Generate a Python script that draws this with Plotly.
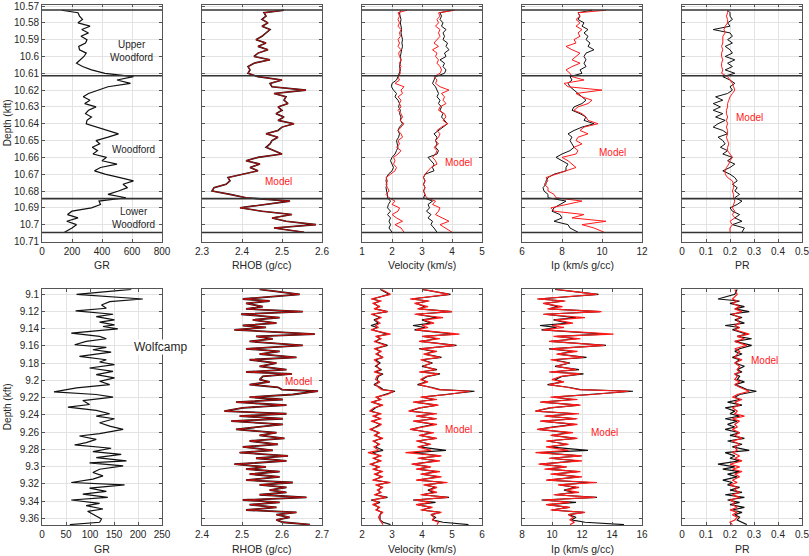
import plotly.graph_objects as go

W, H = 809, 556

# ---------------- top interval (Woodford), depth in kft ----------------
top_depth = [10.5725, 10.574, 10.576, 10.578, 10.580, 10.582, 10.584, 10.586, 10.588, 10.590,
             10.592, 10.594, 10.596, 10.598, 10.600, 10.602, 10.604, 10.606, 10.608, 10.610,
             10.612, 10.614, 10.616, 10.618, 10.620, 10.622, 10.624, 10.626, 10.628, 10.630,
             10.632, 10.634, 10.636, 10.638, 10.640, 10.642, 10.644, 10.646, 10.648, 10.650,
             10.652, 10.654, 10.656, 10.658, 10.660, 10.662, 10.664, 10.666, 10.668, 10.670,
             10.672, 10.674, 10.676, 10.678, 10.680, 10.682, 10.684, 10.686, 10.688, 10.690,
             10.692, 10.694, 10.696, 10.698, 10.700, 10.702, 10.7045]

gr_top = [130, 240, 250, 270, 240, 320, 265, 310, 260, 300,
          290, 245, 250, 295, 280, 255, 230, 270, 330, 420,
          610, 500, 590, 440, 380, 310, 275, 320, 285, 360,
          310, 290, 330, 300, 295, 370, 440, 510, 440, 360,
          385, 335, 370, 340, 430, 400, 500, 390, 350, 420,
          520, 610, 540, 570, 510, 440, 560, 380, 390, 330,
          200, 170, 240, 165, 230, 200, 150]

rhob_top = [2.505, 2.455, 2.46, 2.45, 2.465, 2.45, 2.47, 2.46, 2.45, 2.435,
            2.46, 2.44, 2.465, 2.44, 2.43, 2.47, 2.43, 2.415, 2.42, 2.415,
            2.44, 2.50, 2.47, 2.475, 2.56, 2.48, 2.51, 2.505, 2.515, 2.49,
            2.50, 2.485, 2.505, 2.49, 2.53, 2.50, 2.49, 2.46, 2.49, 2.475,
            2.47, 2.46, 2.48, 2.50, 2.44, 2.41, 2.445, 2.42, 2.44, 2.40,
            2.365, 2.37, 2.36, 2.33, 2.325, 2.37, 2.41, 2.52, 2.45, 2.395,
            2.45, 2.525, 2.475, 2.51, 2.585, 2.48, 2.555]

vs_top = [2.3, 2.25, 2.27, 2.3, 2.28, 2.3, 2.32, 2.3, 2.33, 2.35,
          2.33, 2.35, 2.32, 2.3, 2.28, 2.3, 2.27, 2.25, 2.28, 2.25,
          2.2, 2.15, 2.0, 1.98, 2.05, 2.15, 2.1, 2.2, 2.25, 2.22,
          2.28, 2.25, 2.3, 2.28, 2.35, 2.25, 2.2, 2.25, 2.22, 2.15,
          2.18, 2.2, 2.15, 2.1, 2.0, 1.95, 2.0, 2.05, 2.0, 1.88,
          1.82, 1.8, 1.83, 1.8, 1.82, 1.85, 1.85, 1.95, 1.88, 1.85,
          1.95, 1.85, 1.95, 1.9, 1.95, 1.9, 2.0]
vs_top_model = [2.5, 2.2, 2.25, 2.2, 2.25, 2.2, 2.3, 2.25, 2.28, 2.2,
                2.25, 2.2, 2.3, 2.22, 2.25, 2.3, 2.25, 2.3, 2.25, 2.28,
                2.2, 2.25, 2.1, 2.4, 2.3, 2.35, 2.2, 2.3, 2.25, 2.3,
                2.2, 2.3, 2.35, 2.28, 2.4, 2.3, 2.2, 2.3, 2.35, 2.2,
                2.25, 2.15, 2.3, 2.2, 2.05, 2.1, 2.05, 2.15, 2.1, 1.95,
                1.8, 1.85, 1.8, 1.85, 1.9, 1.8, 1.9, 2.1, 2.0, 2.25,
                2.2, 2.0, 2.15, 2.35, 2.1, 2.3, 2.4]

vp_top = [4.0, 3.6, 3.65, 3.6, 3.7, 3.65, 3.8, 3.7, 3.75, 3.7,
          3.85, 3.8, 3.9, 3.75, 3.8, 3.6, 3.75, 3.7, 3.8, 3.75,
          3.45, 3.4, 3.35, 3.45, 3.5, 3.55, 3.5, 3.6, 3.55, 3.65,
          3.6, 3.7, 3.65, 3.75, 3.85, 3.7, 3.55, 3.4, 3.5, 3.45,
          3.5, 3.45, 3.55, 3.5, 3.2, 3.3, 3.4, 3.35, 3.4, 3.1,
          3.05, 3.1, 3.05, 3.1, 3.05, 3.1, 3.05, 3.35, 3.2, 3.25,
          3.15, 3.3, 3.2, 3.35, 3.3, 3.4, 3.5]
vp_top_model = [4.1, 3.55, 3.6, 3.5, 3.55, 3.45, 3.6, 3.55, 3.6, 3.5,
                3.4, 3.55, 3.35, 3.5, 3.45, 3.55, 3.5, 3.6, 3.65, 3.6,
                3.4, 3.5, 3.45, 3.6, 3.9, 3.65, 3.75, 3.7, 3.8, 3.6,
                3.55, 3.75, 3.8, 3.7, 3.85, 3.65, 3.5, 3.6, 3.55, 3.45,
                3.55, 3.4, 3.5, 3.45, 3.35, 3.45, 3.5, 3.3, 3.2, 3.1,
                3.05, 3.1, 3.05, 3.1, 3.05, 3.1, 3.15, 3.45, 3.35, 3.6,
                3.55, 3.45, 3.7, 3.9, 3.6, 3.8, 4.0]

ip_top = [9.5, 8.8, 8.9, 8.8, 9.1, 9.0, 9.3, 9.1, 9.3, 9.2,
          9.4, 9.3, 9.6, 9.2, 9.1, 9.2, 9.1, 9.2, 8.9, 9.0,
          8.4, 8.5, 8.3, 8.4, 8.6, 8.8, 9.0, 9.2, 9.0, 8.6,
          8.5, 8.9, 9.2, 9.1, 9.6, 9.0, 8.6, 8.3, 8.5, 8.4,
          8.5, 8.6, 8.4, 8.0, 7.7, 8.0, 8.3, 8.2, 8.2, 7.6,
          7.3, 7.2, 7.2, 7.05, 7.1, 7.3, 7.3, 8.2, 7.9, 7.6,
          7.5, 7.9, 8.0, 7.6, 8.3, 8.4, 8.8]
ip_top_model = [10.2, 8.8, 8.9, 8.7, 8.9, 8.7, 9.0, 8.8, 8.9, 8.6,
                8.7, 8.2, 8.5, 8.9, 8.7, 8.5, 8.9, 8.5, 8.2, 8.4,
                8.5, 9.1, 8.1, 8.3, 10.0, 8.7, 9.0, 9.5, 9.3, 8.8,
                8.6, 9.0, 9.2, 9.3, 9.8, 9.1, 8.9, 9.3, 8.8, 8.7,
                9.0, 8.6, 8.8, 8.7, 8.0, 8.3, 8.5, 8.7, 8.2, 7.7,
                7.2, 7.3, 7.1, 7.3, 7.3, 7.6, 7.7, 9.0, 8.3, 7.45,
                7.6, 9.1, 8.5, 10.2, 9.0, 9.6, 10.1]

pr_top = [0.19, 0.2, 0.2, 0.21, 0.19, 0.2, 0.13, 0.2, 0.21, 0.19,
          0.21, 0.18, 0.2, 0.21, 0.18, 0.22, 0.19, 0.21, 0.18, 0.22,
          0.17, 0.2, 0.22, 0.2, 0.21, 0.19, 0.14, 0.17, 0.13, 0.16,
          0.13, 0.17, 0.14, 0.18, 0.15, 0.13, 0.17, 0.19, 0.15, 0.17,
          0.18, 0.16, 0.19, 0.17, 0.21, 0.19, 0.22, 0.2, 0.17, 0.2,
          0.22, 0.23, 0.21, 0.23, 0.22, 0.24, 0.22, 0.25, 0.23, 0.2,
          0.21, 0.24, 0.22, 0.25, 0.21, 0.26, 0.25]
pr_top_model = [0.19, 0.19, 0.185, 0.19, 0.19, 0.18, 0.175, 0.18, 0.17, 0.17,
                0.17, 0.165, 0.17, 0.165, 0.165, 0.17, 0.165, 0.165, 0.17, 0.165,
                0.19, 0.2, 0.21, 0.215, 0.22, 0.21, 0.2, 0.195, 0.19, 0.19,
                0.185, 0.185, 0.19, 0.185, 0.19, 0.185, 0.19, 0.19, 0.185, 0.19,
                0.195, 0.19, 0.19, 0.2, 0.21, 0.2, 0.195, 0.185, 0.18, 0.18,
                0.19, 0.21, 0.215, 0.215, 0.21, 0.215, 0.215, 0.22, 0.215, 0.21,
                0.22, 0.21, 0.22, 0.2, 0.21, 0.2, 0.2]

tops = [10.5724, 10.6115, 10.6845, 10.7047]   # formation boundaries

# ---------------- bottom interval (Wolfcamp) ----------------
gr_bot_depth = [9.0946, 9.1004, 9.1058, 9.1088, 9.1127, 9.1165, 9.1196, 9.1235, 9.1262, 9.1300,
                9.1327, 9.1358, 9.1377, 9.1404, 9.1454, 9.1492, 9.1519, 9.1550, 9.1588, 9.1619,
                9.1646, 9.1673, 9.1723, 9.1762, 9.1788, 9.1819, 9.1858, 9.1896, 9.1935, 9.1973,
                9.2012, 9.2050, 9.2088, 9.2135, 9.2165, 9.2196, 9.2235, 9.2281, 9.2312, 9.2350,
                9.2388, 9.2415, 9.2446, 9.2492, 9.2531, 9.2569, 9.2619, 9.2646, 9.2685, 9.2723,
                9.2750, 9.2788, 9.2827, 9.2858, 9.2896, 9.2935, 9.2958, 9.2992, 9.3031, 9.3069,
                9.3108, 9.3146, 9.3185, 9.3212, 9.3250, 9.3288, 9.3319, 9.3358, 9.3388, 9.3427,
                9.3454, 9.3492, 9.3519, 9.3569, 9.3608, 9.3646, 9.3673]
gr_bot = [186, 72, 210, 141, 124, 134, 70, 148, 113, 151,
          120, 151, 127, 158, 61, 120, 134, 92, 68, 134,
          106, 144, 78, 134, 120, 151, 99, 148, 113, 151,
          120, 141, 72, 25, 113, 148, 85, 99, 54, 113,
          141, 113, 151, 120, 141, 169, 120, 78, 113, 92,
          68, 144, 106, 165, 113, 176, 99, 169, 120, 106,
          127, 106, 61, 172, 99, 134, 85, 137, 61, 120,
          92, 127, 95, 113, 124, 120, 58]

bot_depth = [9.0946, 9.1004, 9.1058, 9.1081, 9.1108, 9.1146, 9.1173, 9.1204, 9.1235, 9.1273,
             9.1300, 9.1338, 9.1365, 9.1388, 9.1415, 9.1465, 9.1492, 9.1519, 9.1550, 9.1596,
             9.1635, 9.1665, 9.1696, 9.1735, 9.1762, 9.1800, 9.1838, 9.1877, 9.1904, 9.1927,
             9.1954, 9.1992, 9.2019, 9.2050, 9.2081, 9.2108, 9.2127, 9.2165, 9.2196, 9.2223,
             9.2254, 9.2288, 9.2319, 9.2358, 9.2388, 9.2415, 9.2446, 9.2473, 9.2512, 9.2542,
             9.2569, 9.2608, 9.2638, 9.2673, 9.2704, 9.2742, 9.2773, 9.2812, 9.2838, 9.2877,
             9.2904, 9.2935, 9.2973, 9.3004, 9.3031, 9.3058, 9.3088, 9.3119, 9.3158, 9.3185,
             9.3212, 9.3242, 9.3273, 9.3300, 9.3327, 9.3358, 9.3388, 9.3415, 9.3442, 9.3473,
             9.3504, 9.3531, 9.3558, 9.3588, 9.3619, 9.3646, 9.3673]

rhob_bot = [2.544, 2.644, 2.502, 2.569, 2.510, 2.552, 2.510, 2.652, 2.498, 2.594,
            2.527, 2.586, 2.502, 2.560, 2.481, 2.682, 2.535, 2.577, 2.519, 2.652,
            2.510, 2.594, 2.544, 2.636, 2.519, 2.586, 2.544, 2.611, 2.510, 2.625,
            2.552, 2.544, 2.569, 2.519, 2.590, 2.600, 2.690, 2.627, 2.519, 2.602,
            2.485, 2.611, 2.502, 2.456, 2.611, 2.494, 2.602, 2.473, 2.602, 2.535,
            2.485, 2.586, 2.544, 2.606, 2.519, 2.590, 2.502, 2.577, 2.494, 2.615,
            2.535, 2.611, 2.481, 2.560, 2.510, 2.594, 2.519, 2.594, 2.510, 2.627,
            2.544, 2.611, 2.569, 2.611, 2.544, 2.661, 2.502, 2.594, 2.519, 2.586,
            2.510, 2.636, 2.586, 2.619, 2.586, 2.602, 2.670]

vp_bot = [4.0, 4.95, 3.65, 4.2, 3.8, 4.1, 3.9, 5.0, 3.8, 4.5,
          4.0, 4.3, 3.7, 4.1, 3.75, 5.1, 4.05, 4.5, 3.95, 5.15,
          3.9, 4.4, 4.1, 4.65, 4.0, 4.35, 4.0, 4.5, 3.95, 4.6,
          4.2, 4.0, 4.15, 3.85, 4.3, 4.6, 5.75, 4.8, 4.0, 4.4,
          3.75, 4.5, 3.95, 3.6, 4.4, 3.85, 4.45, 3.75, 4.4, 3.95,
          3.65, 4.3, 3.95, 4.45, 3.85, 4.25, 3.9, 4.8, 3.7, 4.6,
          3.9, 4.5, 3.7, 4.25, 3.85, 4.5, 4.0, 4.55, 3.85, 4.75,
          4.1, 4.45, 4.2, 4.4, 4.0, 4.9, 3.7, 4.45, 3.85, 4.3,
          4.0, 4.6, 4.3, 4.45, 4.35, 4.7, 5.55]
vp_bot_model = [4.05, 4.9, 3.6, 4.25, 3.75, 4.2, 3.85, 5.0, 3.75, 4.7,
                4.05, 4.4, 4.0, 4.2, 3.8, 5.25, 4.0, 4.6, 3.9, 5.1,
                3.95, 4.5, 4.05, 4.6, 3.95, 4.3, 4.05, 4.45, 3.9, 4.55,
                4.15, 3.95, 4.2, 3.9, 4.25, 4.55, 5.6, 4.85, 3.95, 4.5,
                3.7, 4.55, 3.9, 3.55, 4.5, 3.8, 4.5, 3.7, 4.5, 4.0,
                3.6, 4.4, 3.9, 4.5, 3.8, 4.3, 3.85, 4.3, 3.45, 4.65,
                3.85, 4.6, 3.65, 4.3, 3.8, 4.6, 3.95, 4.65, 3.8, 4.85,
                4.05, 4.5, 4.25, 4.5, 3.95, 4.85, 3.75, 4.3, 3.8, 4.35,
                3.95, 4.65, 4.3, 4.4, 4.35, 4.55, 4.5]

vs_bot = [2.6, 2.9, 2.35, 2.6, 2.4, 2.55, 2.45, 2.85, 2.35, 2.6,
          2.4, 2.55, 2.3, 2.5, 2.35, 2.85, 2.5, 2.6, 2.45, 2.85,
          2.45, 2.6, 2.5, 2.7, 2.45, 2.6, 2.45, 2.65, 2.45, 2.7,
          2.55, 2.5, 2.55, 2.4, 2.6, 2.7, 3.1, 2.8, 2.5, 2.6,
          2.35, 2.65, 2.45, 2.3, 2.6, 2.4, 2.6, 2.35, 2.6, 2.45,
          2.3, 2.55, 2.45, 2.65, 2.4, 2.55, 2.45, 2.7, 2.35, 2.6,
          2.4, 2.6, 2.3, 2.55, 2.4, 2.65, 2.45, 2.65, 2.4, 2.9,
          2.5, 2.65, 2.55, 2.6, 2.45, 2.85, 2.3, 2.6, 2.4, 2.55,
          2.5, 2.65, 2.6, 2.6, 2.6, 2.7, 2.95]
vs_bot_model = [2.65, 2.95, 2.3, 2.65, 2.35, 2.6, 2.4, 2.85, 2.3, 2.65,
                2.45, 2.6, 2.45, 2.55, 2.3, 2.95, 2.45, 2.65, 2.4, 2.8,
                2.4, 2.65, 2.45, 2.7, 2.4, 2.55, 2.5, 2.6, 2.4, 2.65,
                2.5, 2.45, 2.6, 2.45, 2.55, 2.65, 3.05, 2.85, 2.45, 2.65,
                2.3, 2.7, 2.4, 2.25, 2.65, 2.35, 2.65, 2.3, 2.65, 2.5,
                2.25, 2.6, 2.4, 2.7, 2.35, 2.6, 2.4, 2.55, 2.2, 2.65,
                2.35, 2.65, 2.25, 2.6, 2.35, 2.7, 2.4, 2.7, 2.35, 2.95,
                2.45, 2.7, 2.5, 2.65, 2.4, 2.8, 2.35, 2.55, 2.35, 2.6,
                2.45, 2.7, 2.6, 2.55, 2.6, 2.65, 2.7]

ip_bot = [10.2, 13.1, 9.1, 10.8, 9.5, 10.4, 9.8, 13.2, 9.5, 11.6,
          10.1, 11.1, 9.2, 10.3, 9.3, 13.6, 10.3, 11.6, 9.9, 13.6,
          9.8, 11.4, 10.4, 12.3, 10.1, 11.2, 10.2, 11.8, 9.9, 12.1,
          10.7, 10.2, 10.7, 9.7, 11.1, 11.9, 15.4, 12.6, 10.1, 11.4,
          9.3, 11.8, 9.9, 8.9, 11.5, 9.6, 11.6, 9.3, 11.5, 10.0,
          9.1, 11.1, 10.0, 11.6, 9.7, 11.0, 9.8, 12.4, 9.2, 11.9,
          9.9, 11.7, 9.2, 10.9, 9.7, 11.7, 10.1, 11.8, 9.7, 12.5,
          10.5, 11.6, 10.8, 11.5, 10.2, 13.0, 9.3, 11.6, 9.7, 11.1,
          10.0, 12.1, 11.1, 11.6, 11.3, 12.2, 14.8]
ip_bot_model = [10.3, 13.0, 9.0, 10.9, 9.4, 10.7, 9.7, 13.3, 9.4, 12.2,
                10.2, 11.4, 10.0, 10.8, 9.4, 14.1, 10.1, 11.9, 9.8, 13.5,
                9.9, 11.7, 10.3, 12.1, 9.9, 11.1, 10.3, 11.6, 9.8, 11.9,
                10.6, 10.0, 10.8, 9.8, 11.0, 11.8, 15.1, 12.7, 9.9, 11.7,
                9.2, 11.9, 9.8, 8.9, 11.8, 9.5, 11.7, 9.2, 11.7, 10.1,
                9.0, 11.4, 9.9, 11.7, 9.6, 11.1, 9.6, 11.1, 8.9, 12.0,
                9.8, 12.0, 9.1, 11.0, 9.5, 11.9, 9.9, 12.0, 9.6, 13.0,
                10.4, 11.8, 10.9, 11.8, 10.1, 12.9, 9.4, 11.2, 9.6, 11.2,
                9.9, 12.2, 11.1, 11.4, 11.2, 11.5, 11.2]

pr_bot = [0.23, 0.22, 0.15, 0.24, 0.2, 0.26, 0.22, 0.28, 0.2, 0.25,
          0.22, 0.26, 0.18, 0.24, 0.21, 0.27, 0.23, 0.29, 0.22, 0.29,
          0.24, 0.22, 0.25, 0.21, 0.24, 0.22, 0.26, 0.23, 0.25, 0.22,
          0.24, 0.23, 0.26, 0.22, 0.25, 0.27, 0.31, 0.24, 0.22, 0.24,
          0.19, 0.25, 0.18, 0.22, 0.2, 0.24, 0.18, 0.23, 0.19, 0.22,
          0.18, 0.24, 0.2, 0.26, 0.19, 0.25, 0.21, 0.28, 0.18, 0.22,
          0.2, 0.24, 0.15, 0.22, 0.17, 0.24, 0.19, 0.23, 0.17, 0.21,
          0.19, 0.24, 0.2, 0.25, 0.18, 0.26, 0.19, 0.24, 0.2, 0.26,
          0.21, 0.25, 0.22, 0.24, 0.23, 0.25, 0.27]
pr_bot_model = [0.22, 0.23, 0.21, 0.23, 0.21, 0.24, 0.22, 0.25, 0.21, 0.24,
                0.23, 0.24, 0.22, 0.24, 0.22, 0.28, 0.23, 0.26, 0.22, 0.27,
                0.22, 0.24, 0.23, 0.22, 0.25, 0.22, 0.24, 0.23, 0.24, 0.22,
                0.23, 0.22, 0.24, 0.22, 0.24, 0.26, 0.28, 0.23, 0.21, 0.25,
                0.22, 0.24, 0.21, 0.23, 0.22, 0.26, 0.21, 0.24, 0.22, 0.23,
                0.21, 0.24, 0.22, 0.25, 0.21, 0.24, 0.22, 0.23, 0.21, 0.24,
                0.22, 0.25, 0.2, 0.24, 0.21, 0.25, 0.22, 0.24, 0.21, 0.23,
                0.2, 0.23, 0.22, 0.24, 0.21, 0.24, 0.2, 0.22, 0.21, 0.23,
                0.2, 0.23, 0.21, 0.23, 0.22, 0.2, 0.21]

# ---------------- axes definitions ----------------
top_ticks = [10.57, 10.58, 10.59, 10.60, 10.61, 10.62, 10.63, 10.64, 10.65, 10.66, 10.67, 10.68, 10.69, 10.70, 10.71]
top_ticktext = ["10.57", "10.58", "10.59", "10.6", "10.61", "10.62", "10.63", "10.64", "10.65",
                "10.66", "10.67", "10.68", "10.69", "10.7", "10.71"]
bot_ticks = [9.10, 9.12, 9.14, 9.16, 9.18, 9.20, 9.22, 9.24, 9.26, 9.28, 9.30, 9.32, 9.34, 9.36]
bot_ticktext = ["9.1", "9.12", "9.14", "9.16", "9.18", "9.2", "9.22", "9.24", "9.26", "9.28",
                "9.3", "9.32", "9.34", "9.36"]

panels_top = [
    ("GR", [0, 800], [0, 200, 400, 600, 800], ["0", "200", "400", "600", "800"]),
    ("RHOB (g/cc)", [2.3, 2.6], [2.3, 2.4, 2.5, 2.6], ["2.3", "2.4", "2.5", "2.6"]),
    ("Velocity (km/s)", [1, 5], [1, 2, 3, 4, 5], ["1", "2", "3", "4", "5"]),
    ("Ip (km/s g/cc)", [6, 12], [6, 8, 10, 12], ["6", "8", "10", "12"]),
    ("PR", [0, 0.5], [0, 0.1, 0.2, 0.3, 0.4, 0.5], ["0", "0.1", "0.2", "0.3", "0.4", "0.5"]),
]
panels_bot = [
    ("GR", [0, 250], [0, 50, 100, 150, 200, 250], ["0", "50", "100", "150", "200", "250"]),
    ("RHOB (g/cc)", [2.4, 2.7], [2.4, 2.5, 2.6, 2.7], ["2.4", "2.5", "2.6", "2.7"]),
    ("Velocity (km/s)", [2, 6], [2, 3, 4, 5, 6], ["2", "3", "4", "5", "6"]),
    ("Ip (km/s g/cc)", [8, 16], [8, 10, 12, 14, 16], ["8", "10", "12", "14", "16"]),
    ("PR", [0, 0.5], [0, 0.1, 0.2, 0.3, 0.4, 0.5], ["0", "0.1", "0.2", "0.3", "0.4", "0.5"]),
]

FONT = "Liberation Sans, Arial, sans-serif"
TXT = "#262626"
BLACK = "#111111"
RED = "#ff1a1a"

panel_left = [42, 202, 362, 522, 682]
panel_w = 120
row_px = [(4.5, 241.8), (289.3, 525.0)]
row_range = [[10.7102, 10.5691], [9.36777, 9.09455]]
title_py = [264.5, 549.0]


def fx(px):
    return px / W


def fy(py):
    return 1 - py / H


def sfx(n):
    # plotly names the first axis "x"/"y", not "x1"/"y1"
    return "" if n == 1 else str(n)


fig = go.Figure()
layout = {}
annotations = []
shapes = []


def label(text, px, py, color=TXT, size=10, bg=None, angle=0):
    # anchor explicitly at the centre: plotly's "auto" anchoring shifts paper-referenced text
    a = dict(text=text, x=fx(px), y=fy(py), xref="paper", yref="paper", showarrow=False,
             xanchor="center", yanchor="middle", textangle=angle, borderpad=0,
             font=dict(size=size, color=color, family=FONT))
    if bg:
        a["bgcolor"] = bg
    annotations.append(a)


for r, panels in enumerate([panels_top, panels_bot]):
    y0, y1 = row_px[r]
    for c, (title, xr, tv, tt) in enumerate(panels):
        n = r * 5 + c + 1
        layout["xaxis" + sfx(n)] = dict(
            domain=[fx(panel_left[c]), fx(panel_left[c] + panel_w)],
            anchor="y" + sfx(n), range=xr, tickvals=tv, ticktext=tt,
            automargin=False, ticklabeloverflow="allow",
            showgrid=True, gridcolor="#e3e3e3", gridwidth=1, zeroline=False,
            showline=True, linecolor="#555555", linewidth=0.8, mirror="ticks",
            ticks="inside", ticklen=3, tickcolor="#555555",
            tickfont=dict(size=10, color=TXT, family=FONT),
        )
        layout["yaxis" + sfx(n)] = dict(
            domain=[fy(y1), fy(y0)], anchor="x" + sfx(n), range=row_range[r],
            tickvals=top_ticks if r == 0 else bot_ticks,
            ticktext=top_ticktext if r == 0 else bot_ticktext,
            showticklabels=(c == 0), automargin=False, ticklabeloverflow="allow",
            showgrid=True, gridcolor="#e3e3e3", gridwidth=1, zeroline=False,
            showline=True, linecolor="#555555", linewidth=0.8, mirror="ticks",
            ticks="inside", ticklen=3, tickcolor="#555555",
            tickfont=dict(size=10, color=TXT, family=FONT),
        )
        label(title, panel_left[c] + panel_w / 2, title_py[r], size=10.5)
    label("Depth (kft)", 7, (y0 + y1) / 2, size=10, angle=-90)


def line(x, y, n, color, width):
    fig.add_trace(go.Scatter(x=x, y=y, xaxis="x" + sfx(n), yaxis="y" + sfx(n), mode="lines",
                             line=dict(color=color, width=width), showlegend=False,
                             hoverinfo="skip"))


# top row
line(gr_top, top_depth, 1, BLACK, 1.2)
line(rhob_top, top_depth, 2, BLACK, 1.6)
line(rhob_top, top_depth, 2, "#d01010", 0.8)
line(vs_top, top_depth, 3, BLACK, 1.0)
line(vp_top, top_depth, 3, BLACK, 1.0)
line(vs_top_model, top_depth, 3, RED, 1.0)
line(vp_top_model, top_depth, 3, RED, 1.0)
line(ip_top, top_depth, 4, BLACK, 1.0)
line(ip_top_model, top_depth, 4, RED, 1.0)
line(pr_top, top_depth, 5, BLACK, 1.0)
line(pr_top_model, top_depth, 5, RED, 1.0)

# bottom row
line(gr_bot, gr_bot_depth, 6, BLACK, 1.2)
line(rhob_bot, bot_depth, 7, BLACK, 1.8)
line(rhob_bot, bot_depth, 7, "#d01010", 0.9)
line(vs_bot, bot_depth, 8, BLACK, 1.2)
line(vp_bot, bot_depth, 8, BLACK, 1.2)
line(vs_bot_model, bot_depth, 8, RED, 1.2)
line(vp_bot_model, bot_depth, 8, RED, 1.2)
line(ip_bot, bot_depth, 9, BLACK, 1.2)
line(ip_bot_model, bot_depth, 9, RED, 1.2)
line(pr_bot, bot_depth, 10, BLACK, 1.2)
line(pr_bot_model, bot_depth, 10, RED, 1.2)

# formation boundaries on the top row
for n in range(1, 6):
    for d in tops:
        shapes.append(dict(type="line", xref="x" + sfx(n) + " domain", yref="y" + sfx(n),
                           x0=0, x1=1, y0=d, y1=d,
                           line=dict(color="#333333", width=1.6)))

label("Upper<br>Woodford", 131, 51)
label("Woodford", 133, 149)
label("Lower<br>Woodford", 133, 218)
label("Model", 278, 181, RED)
label("Model", 459, 163, RED)
label("Model", 612, 152, RED)
label("Model", 749, 117, RED)
label("Wolfcamp", 160, 347, size=12, bg="white")
label("Model", 298, 382, RED)
label("Model", 458, 429, RED)
label("Model", 604, 432, RED)
label("Model", 764, 360, RED)

fig.update_layout(
    width=W, height=H, margin=dict(l=0, r=0, t=0, b=0, autoexpand=False),
    paper_bgcolor="white", plot_bgcolor="white",
    annotations=annotations, shapes=shapes, **layout,
)

# the page body has a default 8px margin; drop it so the figure sits at the window origin
fig.write_html("out.html", config={"displayModeBar": False},
               post_script="document.body.style.margin='0';")
